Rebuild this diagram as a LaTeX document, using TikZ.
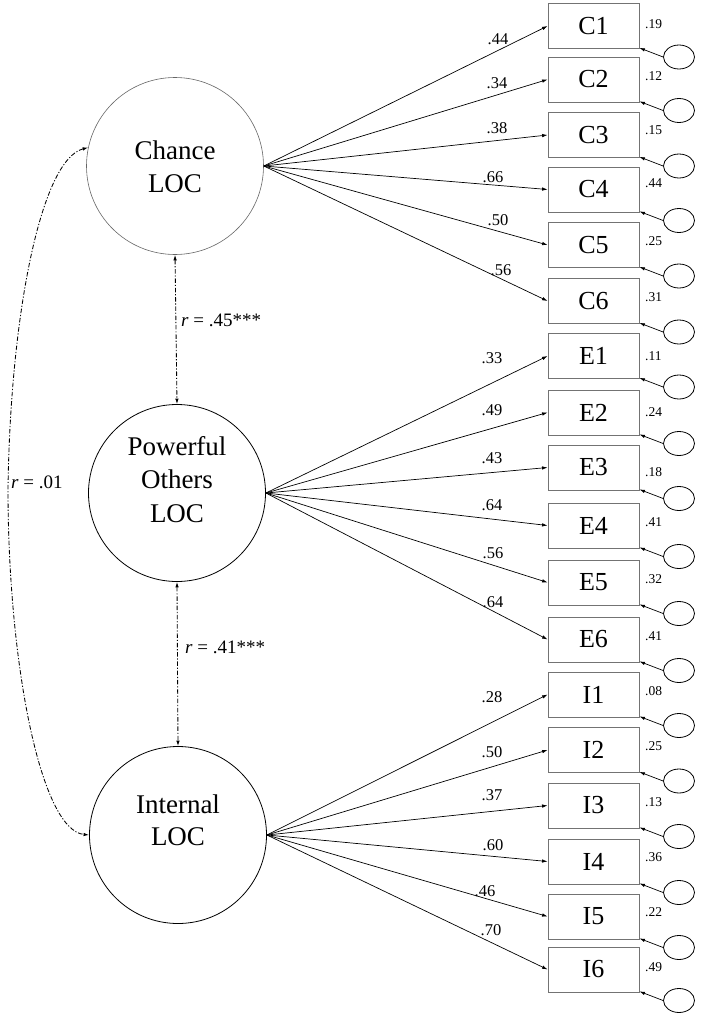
\documentclass[tikz,border=0pt]{standalone}
\usepackage{fontspec}
\setmainfont{Liberation Serif}
\usetikzlibrary{arrows.meta,calc,shapes.geometric}
\begin{document}
\begin{tikzpicture}[x=1pt,y=-1pt,
  latent/.style={circle,draw,line width=0.8pt,minimum size=177pt,inner sep=0pt},
  ctext/.style={anchor=base,inner sep=0pt,font=\fontsize{27}{33}\selectfont},
  ind/.style={rectangle,draw=black!55,line width=0.8pt,minimum width=91pt,minimum height=45pt,inner sep=0pt,font=\fontsize{26}{26}\selectfont},
  err/.style={ellipse,draw,line width=0.8pt,minimum width=31pt,minimum height=24pt,inner sep=0pt},
  load/.style={-{Latex[length=5.5pt,width=3.5pt]},line width=0.7pt},
  corr/.style={{Latex[length=5.5pt,width=3.5pt]}-{Latex[length=5.5pt,width=3.5pt]},dash pattern=on 4.5pt off 1.8pt on 1.2pt off 1.8pt,line width=0.85pt},
  lbl/.style={inner sep=0pt,font=\fontsize{16.5}{16.5}\selectfont},
  res/.style={inner sep=0pt,anchor=west,font=\fontsize{13.5}{13.5}\selectfont},
  rlbl/.style={inner sep=0pt,anchor=west,font=\fontsize{19}{19}\selectfont}]
\useasboundingbox (0,0) rectangle (701,1017);

% latent variables
\node[latent,draw=black!60,line width=0.6pt] (chance) at (175,166) {};
\node[ctext] (chance-t1) at (175,159) {Chance};
\node[ctext] (chance-t2) at (175,192) {LOC};
\node[latent] (po) at (177,493) {};
\node[ctext] (po-t1) at (177,455) {Powerful};
\node[ctext] (po-t2) at (177,488.5) {Others};
\node[ctext] (po-t3) at (177,522) {LOC};
\node[latent] (internal) at (178,835) {};
\node[ctext] (internal-t1) at (178,813) {Internal};
\node[ctext] (internal-t2) at (178,845.5) {LOC};

% indicators
\foreach \n/\y/\l/\lx/\ly/\r/\ry/\src in {
  C1/26/.44/498/39/.19/24/chance,
  C2/79.5/.34/497/83/.12/76/chance,
  C3/135/.38/497/128/.15/130/chance,
  C4/189.5/.66/493/177/.44/183/chance,
  C5/245/.50/498/220/.25/241/chance,
  C6/301/.56/501/270/.31/297/chance,
  E1/356/.33/492/358/.11/356/po,
  E2/412.5/.49/492/410/.24/412/po,
  E3/467.5/.43/492/458/.18/472/po,
  E4/525.5/.64/492/505/.41/522/po,
  E5/582.5/.56/493/553/.32/579/po,
  E6/639.5/.64/493/602/.41/636/po,
  I1/694.5/.28/492/697/.08/691/internal,
  I2/750/.50/492/752/.25/746/internal,
  I3/805.5/.37/492/795/.13/802/internal,
  I4/861.5/.60/493/845/.36/857/internal,
  I5/916.5/.46/485/891/.22/912/internal,
  I6/969.5/.70/491/930/.49/967/internal}{
  \node[ind] (\n) at (593.5,\y) {\n};
  \draw[load] (\src.east) -- (\n.west);
  \node[lbl] (\n-l) at (\lx,\ly) {\l};
  \node[res] (\n-r) at (645,\ry) {\r};
  \node[err] (\n-e) at (679,\y+31) {};
  \draw[load] (\n-e.west) -- ($(\n.south east)+(0,-1)$);
}

% correlations
\draw[corr] (chance.south) -- (po.north);
\draw[corr] (po.south) -- (internal.north);
\coordinate (arcmid) at (8,490);
\draw[corr] (chance.168) .. controls (40,160) and (10,320) .. (arcmid)
  .. controls (8,660) and (40,830) .. (internal.west);
\node[rlbl] (r1) at (181,320) {\textit{r} = .45***};
\node[rlbl] (r2) at (185,647) {\textit{r} = .41***};
\node[rlbl] (r3) at (11,482) {\textit{r} = .01};
\end{tikzpicture}
\end{document}
